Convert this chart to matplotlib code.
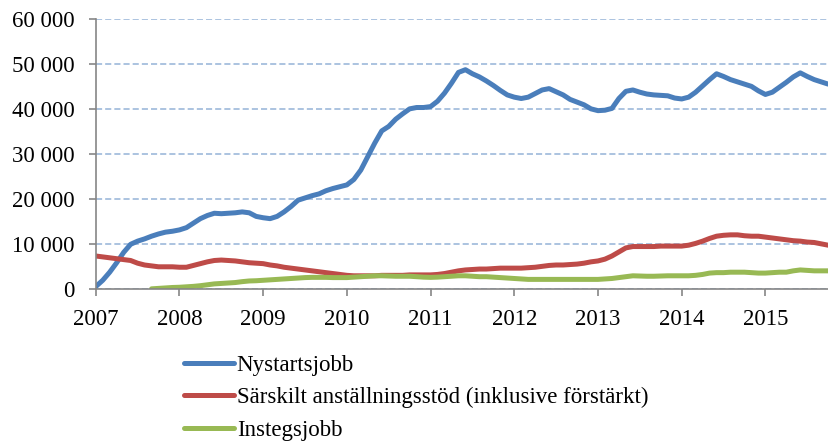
import numpy as np
import matplotlib
matplotlib.use("Agg")
import matplotlib.pyplot as plt

plt.rcParams['font.family'] = ['Liberation Serif', 'DejaVu Serif']

# månadsvärden jan 2007 - okt 2015
start_ar = 2007
nystartsjobb = [
    600, 2000, 3800, 5900, 8200, 10000, 10700, 11200, 11800, 12300, 12700, 12900,
    13200, 13700, 14700, 15700, 16400, 16900, 16800, 16900, 17000, 17200, 17000, 16200,
    15900, 15700, 16200, 17200, 18400, 19800, 20300, 20800, 21200, 21900, 22400, 22800,
    23200, 24400, 26500, 29500, 32500, 35200, 36200, 37800, 39000, 40100, 40400, 40400,
    40600, 41800, 43600, 45800, 48200, 48800, 47900, 47200, 46300, 45300, 44200, 43200,
    42700, 42400, 42700, 43500, 44300, 44600, 43900, 43200, 42200, 41600, 41000, 40100,
    39700, 39800, 40200, 42400, 44000, 44300, 43800, 43400, 43200, 43100, 43000, 42500,
    42300, 42700, 43800, 45200, 46600, 47900, 47300, 46600, 46100, 45600, 45100, 44100,
    43300, 43800, 44900, 46000, 47200, 48100, 47300, 46600, 46100, 45600,
]
sarskilt_stod = [
    7400, 7200, 7000, 6800, 6600, 6400, 5800, 5400, 5200, 5000, 5000, 5000,
    4900, 4900, 5300, 5700, 6100, 6400, 6500, 6400, 6300, 6100, 5900, 5800,
    5700, 5400, 5200, 4900, 4700, 4500, 4300, 4100, 3900, 3700, 3500, 3300,
    3100, 3000, 3000, 3000, 3000, 3100, 3100, 3100, 3100, 3200, 3200, 3200,
    3200, 3300, 3500, 3800, 4100, 4300, 4400, 4500, 4500, 4600, 4700, 4700,
    4700, 4700, 4800, 4900, 5100, 5300, 5400, 5400, 5500, 5600, 5800, 6100,
    6300, 6700, 7400, 8300, 9200, 9500, 9500, 9500, 9500, 9600, 9600, 9600,
    9600, 9800, 10200, 10700, 11300, 11800, 12000, 12100, 12100, 11900, 11800, 11800,
    11600, 11400, 11200, 11000, 10800, 10700, 10500, 10400, 10100, 9800,
]
instegsjobb = [
    None, None, None, None, None, None, None, None, 100, 200, 300, 400,
    450, 550, 650, 800, 1000, 1200, 1300, 1400, 1500, 1700, 1850, 1900,
    2000, 2100, 2200, 2300, 2400, 2500, 2600, 2650, 2650, 2650, 2600, 2600,
    2600, 2700, 2800, 2900, 3000, 3000, 2950, 2900, 2900, 2900, 2800, 2700,
    2650, 2700, 2800, 2900, 3000, 3000, 2900, 2800, 2800, 2700, 2600, 2500,
    2400, 2300, 2200, 2200, 2200, 2200, 2200, 2200, 2200, 2200, 2200, 2200,
    2200, 2300, 2400, 2600, 2800, 3000, 2950, 2900, 2900, 2950, 3000, 3000,
    3000, 3000, 3100, 3300, 3600, 3700, 3700, 3800, 3800, 3800, 3700, 3600,
    3600, 3700, 3800, 3800, 4100, 4300, 4200, 4100, 4100, 4100,
]
serienamn = ["Nystartsjobb", "Särskilt anställningsstöd (inklusive förstärkt)", "Instegsjobb"]
farger = ["#4A7EBB", "#BE4B48", "#98B954"]
ar_ticks = list(range(2007, 2016))
y_ticks = list(range(0, 60001, 10000))

tid = start_ar + np.arange(len(nystartsjobb)) / 12

fig = plt.figure(figsize=(8.29, 4.42), dpi=100)
ax = fig.add_axes([0.1155, 0.3455, 0.8845, 0.6108])

for serie, namn, farg in zip([nystartsjobb, sarskilt_stod, instegsjobb], serienamn, farger):
    y = np.array([np.nan if v is None else v for v in serie], dtype=float)
    ax.plot(tid, y, color=farg, lw=3.6, label=namn, solid_capstyle='round')

ax.set_xlim(2007, tid[-1] + 0.01)
ax.set_ylim(0, 60000)
ax.set_xticks(ar_ticks)
ax.set_xticklabels([str(a) for a in ar_ticks], fontfamily='Liberation Serif', fontsize=16.5)
ax.set_yticks(y_ticks)
ax.set_yticklabels([f"{v:,}".replace(",", " ") for v in y_ticks],
                   fontfamily='Liberation Serif', fontsize=16.5)
ax.tick_params(color="#868686", length=5, width=1.2, direction='out')
ax.tick_params(axis='x', pad=9)
ax.tick_params(axis='y', pad=10)

ax.yaxis.grid(True, linestyle=(0, (4, 2)), color="#95B3D7", lw=1.1)
ax.set_axisbelow(True)
for s in ['top', 'right']:
    ax.spines[s].set_visible(False)
for s in ['left', 'bottom']:
    ax.spines[s].set_color("#868686")
    ax.spines[s].set_linewidth(1.2)

fig.legend(loc='upper left', bbox_to_anchor=(0.222, 0.198), frameon=False, fontsize=16.5,
           handlelength=2.2, handletextpad=0.1, labelspacing=0.5, borderaxespad=0,
           borderpad=0)

fig.savefig("out.png", dpi=100)
